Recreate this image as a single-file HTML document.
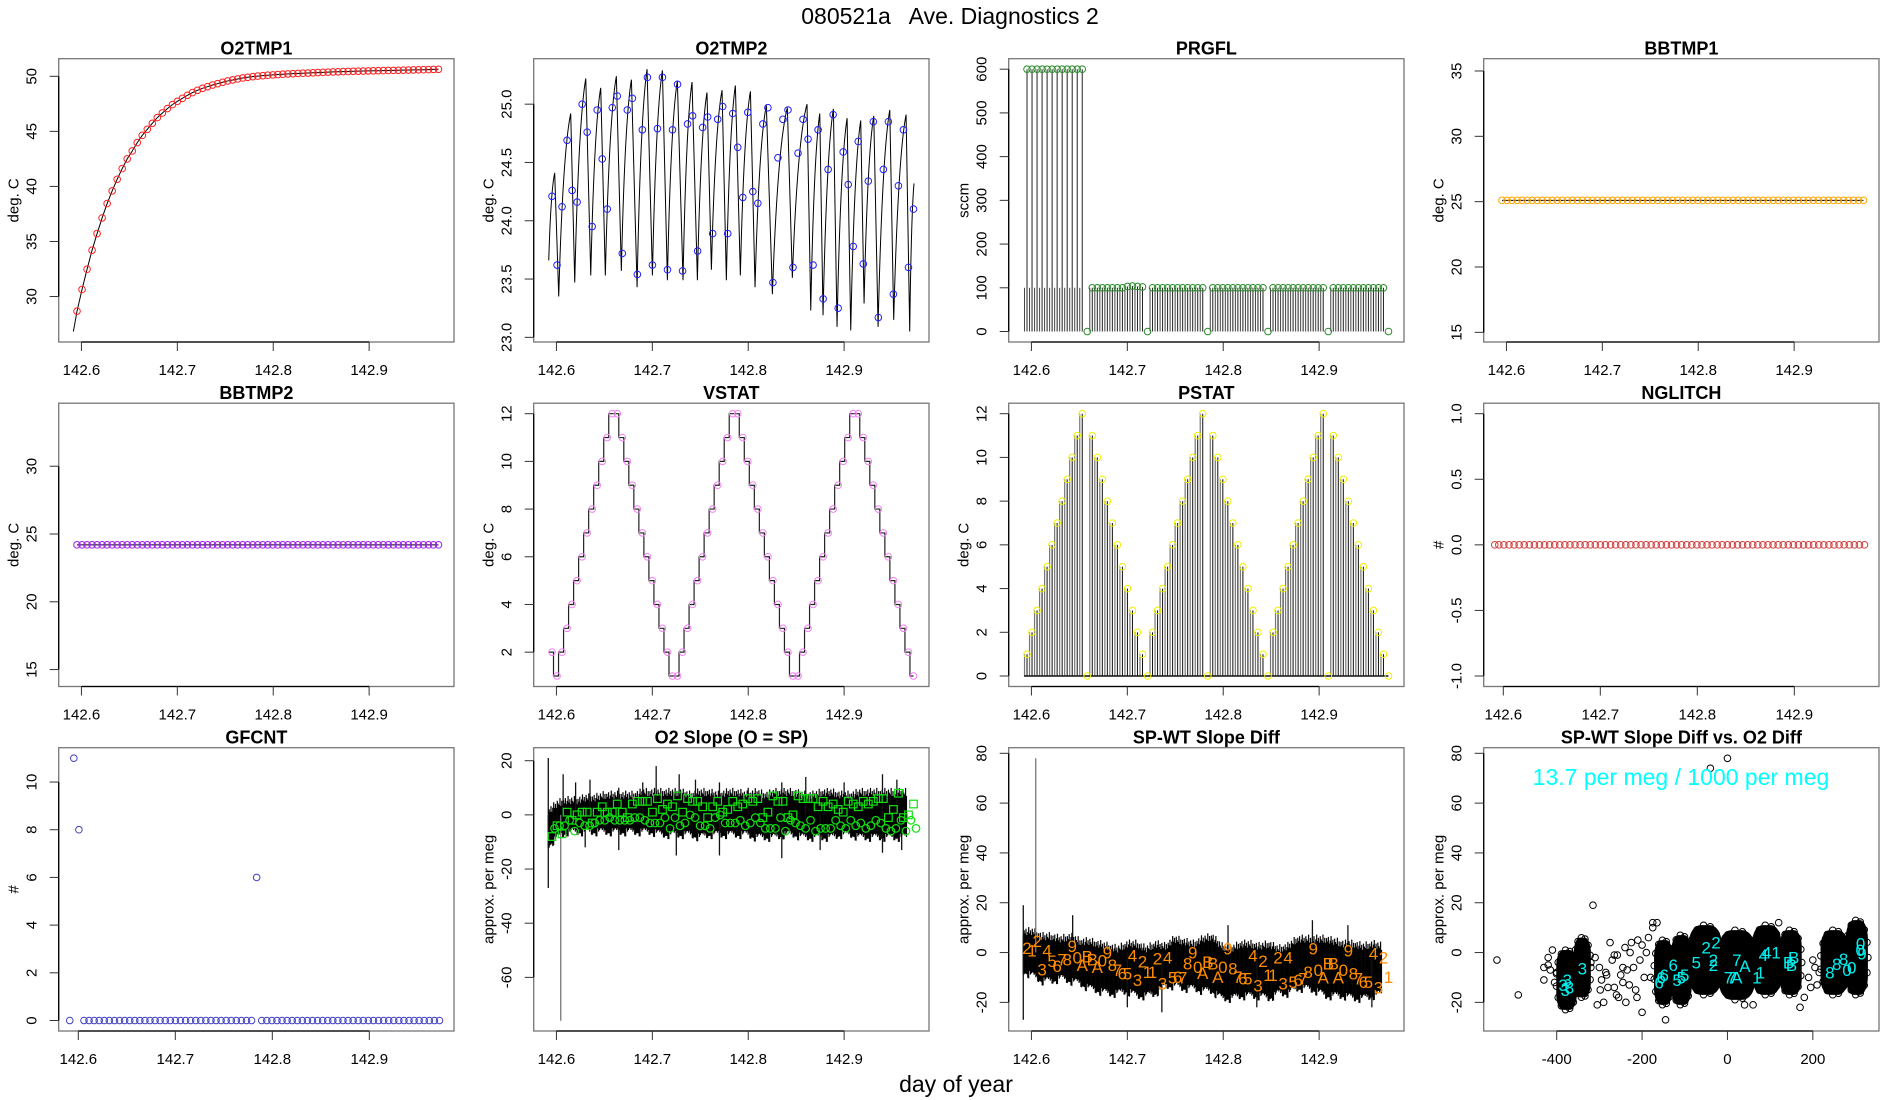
<!DOCTYPE html>
<html><head><meta charset="utf-8"><title>080521a Ave. Diagnostics 2</title>
<style>
html,body{margin:0;padding:0;background:#fff;}
svg{display:block;font-family:"Liberation Sans",Arial,sans-serif;}
</style></head>
<body>
<svg id="fig" width="1900" height="1100" viewBox="0 0 1900 1100" xmlns="http://www.w3.org/2000/svg">
<rect x="0" y="0" width="1900" height="1100" fill="#fff"/>
<text x="950" y="24" font-size="23" text-anchor="middle" style="white-space:pre">080521a   Ave. Diagnostics 2</text>
<text x="956" y="1092" font-size="23" text-anchor="middle">day of year</text>
</svg>
<script>
// ---------- data ----------
const T0 = 142.5954;
const DT = 0.005235;
const NPTS = 73;
const o2tmp1 = [28.67,30.64,32.48,34.21,35.72,37.14,38.44,39.59,40.65,41.62,42.50,43.22,43.98,44.64,45.19,45.73,46.25,46.67,47.07,47.43,47.73,48.00,48.28,48.52,48.73,48.91,49.06,49.21,49.33,49.46,49.58,49.67,49.76,49.85,49.91,49.97,50.02,50.06,50.10,50.13,50.16,50.19,50.22,50.24,50.26,50.28,50.30,50.32,50.34,50.36,50.38,50.40,50.41,50.43,50.44,50.46,50.47,50.48,50.49,50.50,50.51,50.52,50.53,50.54,50.55,50.56,50.57,50.58,50.59,50.60,50.61,50.63,50.64];
const o2tmp1LineStartDay = 142.5916;
const o2tmp1LineStartVal = 26.82;
const o2tmp2 = [24.21,23.62,24.12,24.69,24.26,24.16,25.0,24.76,23.95,24.95,24.53,24.10,24.97,25.07,23.72,24.95,25.05,23.54,24.78,25.23,23.62,24.79,25.23,23.58,24.78,25.17,23.57,24.83,24.90,23.74,24.80,24.89,23.89,24.87,24.98,23.89,24.92,24.63,24.20,24.93,24.25,24.15,24.83,24.97,23.47,24.54,24.87,24.95,23.60,24.58,24.87,24.70,23.62,24.78,23.33,24.44,24.91,23.25,24.59,24.31,23.78,24.68,23.63,24.34,24.85,23.17,24.44,24.85,23.37,24.30,24.78,23.60,24.10];
const o2tmp2LineDays = [142.5920,142.5982,142.6024,142.6149,142.6191,142.6306,142.6358,142.6462,142.6510,142.6625,142.6677,142.6782,142.6841,142.6945,142.7001,142.7105,142.7157,142.7261,142.7320,142.7414,142.7470,142.7570,142.7616,142.7727,142.7772,142.7866,142.7918,142.8023,142.8071,142.8189,142.8252,142.8408,142.8460,142.8613,142.8652,142.8746,142.8780,142.8888,142.8926,142.9031,142.9069,142.9173,142.9208,142.9309,142.9354,142.9476,142.9517,142.9646,142.9684,142.9729];
const o2tmp2LineVals = [23.66,24.41,23.35,24.92,23.47,25.22,23.53,25.14,23.53,25.24,23.57,25.21,23.43,25.30,23.53,25.29,23.49,25.20,23.49,25.19,23.49,25.10,23.58,25.12,23.49,25.16,23.53,25.11,23.43,24.99,23.37,24.97,23.51,25.00,23.23,24.92,23.19,24.96,23.09,24.88,23.06,24.86,23.29,24.90,23.09,24.95,23.15,24.91,23.05,24.32];
const prgfl = [600,600,600,600,600,600,600,600,600,600,600,600,0,100,100,100,100,100,100,100,103,104,103,102,0,100,100,100,100,100,100,100,100,100,100,100,0,100,100,100,100,100,100,100,100,100,100,100,0,100,100,100,100,100,100,100,100,100,100,100,0,100,100,100,100,100,100,100,100,100,100,100,0];
const bbtmp1 = 25.1;
const bbtmp2 = 24.2;
const vstat = [2,1,2,3,4,5,6,7,8,9,10,11,12,12,11,10,9,8,7,6,5,4,3,2,1,1,2,3,4,5,6,7,8,9,10,11,12,12,11,10,9,8,7,6,5,4,3,2,1,1,2,3,4,5,6,7,8,9,10,11,12,12,11,10,9,8,7,6,5,4,3,2,1];
const pstat = [1,2,3,4,5,6,7,8,9,10,11,12,0,11,10,9,8,7,6,5,4,3,2,1,0,2,3,4,5,6,7,8,9,10,11,12,0,11,10,9,8,7,6,5,4,3,2,1,0,2,3,4,5,6,7,8,9,10,11,12,0,11,10,9,8,7,6,5,4,3,2,1,0];
const nglitch = 0;
const gfFirstDay = 142.5912;
const gfFirstVal = 0;
const gfcnt = [11,8,0,0,0,0,0,0,0,0,0,0,0,0,0,0,0,0,0,0,0,0,0,0,0,0,0,0,0,0,0,0,0,0,0,0,6,0,0,0,0,0,0,0,0,0,0,0,0,0,0,0,0,0,0,0,0,0,0,0,0,0,0,0,0,0,0,0,0,0,0,0,0];
const BIN0 = 142.5915;
const BINW = 0.00985;
const slopeHi = [0,3,4,4,5,5,6,6,6,6,7,7,7,7,7,6,7,7,6,7,7,6,7,6,7,7,7,6,6,7,7,6,6,7,7,7,7,7,7];
const slopeLo = [-10,-7,-5,-5,-5,-5,-5,-5,-5,-5,-5,-5,-6,-6,-6,-6,-7,-6,-6,-6,-6,-6,-7,-7,-7,-6,-6,-7,-7,-7,-7,-6,-6,-7,-7,-7,-7,-7,-7];
const slopeSpikeDays = [142.5915,142.5915,142.6045,142.607,142.62,142.635,142.665,142.69,142.704,142.728,142.745,142.77,142.80,142.835,142.86,142.90,142.94,142.955,142.63,142.665,142.725,142.77,142.835,142.875,142.94,142.96];
const slopeSpikeVals = [21,-27,-76,15,12,13,10,12,18,15,13,12,10,12,14,12,15,13,-12,-13,-15,-15,-16,-13,-14,-13];
const slopeSP = [-8,-4,-7,1,-2,0,1,1,-3,1,3,1,1,4,1,-1,4,5,5,5,1,6,2,4,3,7,1,6,5,5,3,-1,3,5,1,2,5,3,4,6,5,6,-1,1,7,5,5,-1,0,7,6,6,6,3,5,3,4,2,1,5,4,3,5,4,5,6,6,-1,2,8,-1,0,4];
const slopeWT = [-5,-4,-4,-2,-6,-3,-4,-4,-3,-2,-2,-1,-2,-2,-2,-2,-1,-1,-2,-3,-3,-3,-1,-5,-1,-4,-3,0,-1,-4,-4,-5,-1,0,-3,-3,-3,-2,-4,-3,-1,-3,-5,-5,-5,-1,-6,-2,-3,-4,-5,-2,-6,-5,-5,-5,-2,-4,-5,-2,-4,-3,-5,-4,-2,-3,-5,-6,-5,-2,-6,-2,-5];
const diffHi = [7,7,5,5,4,5,3,3,2,1,0,2,2,0,2,1,4,3,2,4,5,1,0,2,2,1,2,0,1,4,4,4,4,3,2,2,1,2,1];
const diffLo = [-6,-8,-10,-10,-9,-10,-11,-13,-14,-15,-15,-14,-16,-16,-15,-12,-12,-13,-13,-14,-14,-17,-17,-16,-16,-16,-17,-15,-15,-13,-13,-14,-16,-16,-16,-17,-17,-16,-15];
const diffSpikeDays = [142.5915,142.5915,142.6045,142.643,142.70,142.736,142.805,142.835,142.893,142.93,142.955];
const diffSpikeVals = [19,-27,78,15,-22,-24,11,-22,13,11,-22];
const diffLabels = ['2','1','2','3','4','5','6','7','8','9','0','A','B','B','A','0','9','8','7','6','5','4','3','2','1','1','2','3','4','5','6','7','8','9','0','A','B','B','A','0','9','8','7','6','5','4','3','2','1','1','2','3','4','5','6','7','8','9','0','A','B','B','A','0','9','8','7','6','5','4','3','2','1'];
const diffVals = [1.9,0.9,4.6,-6.8,0.9,-3.4,-5.4,-2.8,-2.8,2.6,-2,-5.1,-1.5,-2.8,-5.8,-3.1,0,-5.1,-7.1,-8.5,-8.5,-1.1,-11.1,-3.5,-7.8,-7.8,-2.4,-12.5,-2,-10,-9.8,-10,-4.4,0,-5.8,-8.2,-3.8,-4.4,-9.8,-5.8,1.6,-6.4,-9.8,-10.5,-10.5,-1.1,-13.2,-3.4,-9.1,-9.1,-2,-12.5,-2,-11.8,-11.1,-10.5,-7.8,1.6,-7.1,-10,-4.4,-4.4,-10,-7.1,0.9,-8.5,-10.5,-11.8,-11.8,-0.4,-14.1,-2,-9.8];
const clusterX = [-377,-340,-150,-108,-52,22,92,148,250,303];
const clusterY = [-11,-6,-8,-7,-3,-5,-3,-4,-4,-2];
const clusterW = [24,20,22,24,38,42,34,26,32,26];
const clusterH = [12,12,13,14,14,14,14,13,13,15];
const outX = [-540,-490,-315,0,-40,-430,-420,-410,-400,-300,-290,-280,-270,-260,-250,-240,-230,-220,-210,-200,-195,-190,-185,-310,-295,-275,-255,-235,-215,-205,-180,-175,-320,-305,-285,-265,-245,-225,-175,180,190,200,210,-430,-200,-165,-145,120,170,40,60,-265,-245,-228,-212,-298,-283,-258,-238,195,205,215,-420,-415,-405];
const outY = [-3,-17,19,78,74,-11,-5,1,-8,-6,-20,-14,-3,-17,-9,2,-13,-6,5,-24,-10,0,6,-2,-11,4,-18,-7,-15,-3,-10,10,-4,-21,-8,-1,-12,4,12,-18,-10,-3,-13,-6,3,12,-27,12,-22,-21,-21,-14,-6,0,-18,-15,-9,-1,-20,-14,-6,-8,-2,-7,-12];
const labX = [-385,-375,-370,-380,-340,-127,-155,-148,-160,-73,-118,-108,-100,-50,-27,-33,-33,22,2,10,41,22,69,77,114,84,92,155,143,150,240,256,272,280,291,311,312,315];
const labY = [-13,-11,-14,-15,-6.5,-5,-10,-9,-12,-4,-11,-10,-9,2,4,-3,-5,-3,-10,-10,-5.5,-10,-10,-8,0,-1,0,-2,-4,-5,-8,-4.5,-2.5,-7,-6,1,3.6,-0.4];
const labT = ['3','3','3','3','3','6','6','6','6','5','5','5','5','2','2','2','2','7','7','7','A','A','1','1','1','4','4','B','B','B','8','8','8','0','0','0','0','9'];
const timeTicks = [142.6,142.7,142.8,142.9];
const days = Array.from({length:NPTS},(_,i)=>T0+i*DT);
// visual texture for noisy band edges (style only)
const JITTER = [0,3,1,4,0,2,5,1,3,0,4,2,1,5,0,3];

// ---------- helpers ----------
const NS='http://www.w3.org/2000/svg';
const svg=document.getElementById('fig');
function mk(parent,tag,attrs,txt){const e=document.createElementNS(NS,tag);for(const k in attrs)e.setAttribute(k,attrs[k]);if(txt!==undefined)e.textContent=txt;parent.appendChild(e);return e;}
const PW=475, PH=344.5, BL=58.7, BR=454, BT=58.7, BB=342;
function panel(row,col,name,title,xdom,ydom,xticks,yticks,ylab,xfmt,yfmt){
  const ox=col*PW, oy=row*PH;
  const g=mk(svg,'g',{});
  
  
  const x0=ox+BL,x1=ox+BR,y0=oy+BT,y1=oy+BB;
  const sx=v=>x0+(v-xdom[0])/(xdom[1]-xdom[0])*(x1-x0);
  const sy=v=>y1-(v-ydom[0])/(ydom[1]-ydom[0])*(y1-y0);
  const clipId='clip-'+name;
  const cp=mk(g,'clipPath',{id:clipId});
  mk(cp,'rect',{x:x0,y:y0,width:x1-x0,height:y1-y0});
  const t=mk(g,'text',{x:(x0+x1)/2,y:y0-4,'font-size':18,'font-weight':'bold','text-anchor':'middle'},title);
  
  
  const box=mk(g,'rect',{x:x0,y:y0,width:x1-x0,height:y1-y0,fill:'none',stroke:'#777','stroke-width':1.3});
  
  
  const xa=mk(g,'g',{});
  
  
  mk(xa,'line',{x1:sx(xticks[0]),x2:sx(xticks[xticks.length-1]),y1:y1,y2:y1,stroke:'#000','stroke-width':1.3});
  xticks.forEach(v=>{
    mk(xa,'line',{x1:sx(v),x2:sx(v),y1:y1,y2:y1+9,stroke:'#333'});
    const tl=mk(xa,'text',{x:sx(v),y:y1+33,'font-size':15,'text-anchor':'middle'},xfmt(v));
    
    
  });
  const ya=mk(g,'g',{});
  
  
  mk(ya,'line',{x1:x0,x2:x0,y1:sy(yticks[0]),y2:sy(yticks[yticks.length-1]),stroke:'#000','stroke-width':1.3});
  yticks.forEach(v=>{
    mk(ya,'line',{x1:x0,x2:x0-9,y1:sy(v),y2:sy(v),stroke:'#333'});
    const tl=mk(ya,'text',{x:x0-22,y:sy(v),'font-size':15,'text-anchor':'middle',transform:`rotate(-90 ${x0-22} ${sy(v)})`},yfmt(v));
    
    
  });
  const yl=mk(g,'text',{x:x0-40,y:(y0+y1)/2,'font-size':15,'text-anchor':'middle',transform:`rotate(-90 ${x0-40} ${(y0+y1)/2})`},ylab);
  
  
  const plot=mk(g,'g',{'clip-path':`url(#${clipId})`});
  
  
  return {g:plot,sx,sy};
}
const f1=v=>v.toFixed(1), f0=v=>String(v);
const TDOM=[142.5763,142.9885];
function circ(p,x,y,color,name){
  const c=mk(p,'circle',{cx:x,cy:y,r:3.3,fill:'none',stroke:color,'stroke-width':1});
  
  
  return c;
}

// 1 O2TMP1
{const P=panel(0,0,'o2tmp1','O2TMP1',TDOM,[25.87,51.6],timeTicks,[30,35,40,45,50],'deg. C',f1,f0);
 let d='M'+P.sx(o2tmp1LineStartDay)+','+P.sy(o2tmp1LineStartVal);
 o2tmp1.forEach((v,i)=>{d+=' L'+P.sx(days[i])+','+P.sy(v);});
 const ln=mk(P.g,'path',{d:d,fill:'none',stroke:'#000','stroke-width':1});
 
 
 o2tmp1.forEach((v,i)=>circ(P.g,P.sx(days[i]),P.sy(v),'#ff2020','o2tmp1-point'));}

// 2 O2TMP2
{const P=panel(0,1,'o2tmp2','O2TMP2',TDOM,[22.96,25.39],timeTicks,[23.0,23.5,24.0,24.5,25.0],'deg. C',f1,f1);
 let d='';
 o2tmp2LineDays.forEach((t,i)=>{
   const x=P.sx(t), y=P.sy(o2tmp2LineVals[i]);
   if(i===0){d+='M'+x+','+y;return;}
   const px=P.sx(o2tmp2LineDays[i-1]), py=P.sy(o2tmp2LineVals[i-1]);
   if(y<py){ d+=' Q'+(px+(x-px)*0.35)+','+(y+(py-y)*0.2)+' '+x+','+y; }
   else d+=' L'+x+','+y;
 });
 const ln=mk(P.g,'path',{d:d,fill:'none',stroke:'#000','stroke-width':1});
 
 
 o2tmp2.forEach((v,i)=>circ(P.g,P.sx(days[i]),P.sy(v),'#2020ff','o2tmp2-point'));}

// 3 PRGFL
{const P=panel(0,2,'prgfl','PRGFL',TDOM,[-24,624],timeTicks,[0,100,200,300,400,500,600],'sccm',f1,f0);
 prgfl.forEach((v,i)=>{
  const x=P.sx(days[i]);
  const l=mk(P.g,'line',{x1:x-2.5,x2:x-2.5,y1:P.sy(0),y2:P.sy(Math.min(v,100)),stroke:'#444','stroke-width':1});
  
  
  const l2=mk(P.g,'line',{x1:x,x2:x,y1:P.sy(0),y2:P.sy(v),stroke:'#222','stroke-width':1});
  
  
 });
 prgfl.forEach((v,i)=>circ(P.g,P.sx(days[i]),P.sy(v),'#2a8a2a','prgfl-point'));}

// 4 BBTMP1
{const P=panel(0,3,'bbtmp1','BBTMP1',TDOM,[14.26,35.94],timeTicks,[15,20,25,30,35],'deg. C',f1,f0);
 const ln=mk(P.g,'line',{x1:P.sx(days[0]),x2:P.sx(days[NPTS-1]),y1:P.sy(bbtmp1),y2:P.sy(bbtmp1),stroke:'#000'});
 
 
 days.forEach(t=>circ(P.g,P.sx(t),P.sy(bbtmp1),'#ffa500','bbtmp1-point'));}

// 5 BBTMP2
{const P=panel(1,0,'bbtmp2','BBTMP2',TDOM,[13.75,34.65],timeTicks,[15,20,25,30],'deg. C',f1,f0);
 const ln=mk(P.g,'line',{x1:P.sx(days[0]),x2:P.sx(days[NPTS-1]),y1:P.sy(bbtmp2),y2:P.sy(bbtmp2),stroke:'#000'});
 
 
 days.forEach(t=>circ(P.g,P.sx(t),P.sy(bbtmp2),'#a020f0','bbtmp2-point'));}

// 6 VSTAT
{const P=panel(1,1,'vstat','VSTAT',TDOM,[0.56,12.44],timeTicks,[2,4,6,8,10,12],'deg. C',f1,f0);
 let d='M'+(P.sx(days[0])-3.5)+','+P.sy(vstat[0]);
 vstat.forEach((v,i)=>{ if(i>0){const xs=P.sx(days[i-1])+1.5; d+=' L'+xs+','+P.sy(vstat[i-1])+' L'+xs+','+P.sy(v);} });
 d+=' L'+P.sx(days[NPTS-1])+','+P.sy(vstat[NPTS-1]);
 const ln=mk(P.g,'path',{d:d,fill:'none',stroke:'#222','stroke-width':1.2});
 
 
 vstat.forEach((v,i)=>circ(P.g,P.sx(days[i]),P.sy(v),'#f080f0','vstat-point'));}

// 7 PSTAT
{const P=panel(1,2,'pstat','PSTAT',TDOM,[-0.48,12.48],timeTicks,[0,2,4,6,8,10,12],'deg. C',f1,f0);
 pstat.forEach((v,i)=>{
  const x=P.sx(days[i]);
  const l=mk(P.g,'line',{x1:x-2.5,x2:x-2.5,y1:P.sy(0),y2:P.sy(v),stroke:'#777','stroke-width':1.2});
  
  
  const l2=mk(P.g,'line',{x1:x,x2:x,y1:P.sy(0),y2:P.sy(v),stroke:'#111','stroke-width':1});
  
  
 });
 const base=mk(P.g,'line',{x1:P.sx(days[0])-3,x2:P.sx(days[NPTS-1]),y1:P.sy(0),y2:P.sy(0),stroke:'#111','stroke-width':1.5});
 
 
 pstat.forEach((v,i)=>circ(P.g,P.sx(days[i]),P.sy(v),'#f0f000','pstat-point'));}

// 8 NGLITCH
const TDOM2=[142.5798,142.9873];
{const P=panel(1,3,'nglitch','NGLITCH',TDOM2,[-1.08,1.08],timeTicks,[-1.0,-0.5,0.0,0.5,1.0],'#',f1,f1);
 circ(P.g,P.sx(gfFirstDay),P.sy(nglitch),'#d04040','nglitch-point');
 days.forEach(t=>circ(P.g,P.sx(t),P.sy(nglitch),'#d04040','nglitch-point'));}

// 9 GFCNT
{const P=panel(2,0,'gfcnt','GFCNT',TDOM2,[-0.44,11.44],timeTicks,[0,2,4,6,8,10],'#',f1,f0);
 circ(P.g,P.sx(gfFirstDay),P.sy(gfFirstVal),'#4040c0','gfcnt-point');
 gfcnt.forEach((v,i)=>circ(P.g,P.sx(days[i]),P.sy(v),'#4040c0','gfcnt-point'));}

function band(P,hi,lo,name){
  const grp=mk(P.g,'g',{});
  
  
  const n=hi.length;
  const xa=P.sx(BIN0), xb=P.sx(BIN0+(n-1)*BINW);
  let k=0;
  for(let x=xa;x<=xb;x+=0.9,k++){
    const f=(x-xa)/(xb-xa)*(n-1); const i=Math.min(n-2,Math.floor(f)); const u=f-i;
    const h=hi[i]+(hi[i+1]-hi[i])*u, l=lo[i]+(lo[i+1]-lo[i])*u;
    const j1=JITTER[k%JITTER.length], j2=JITTER[(k*7+3)%JITTER.length];
    mk(grp,'line',{x1:x,x2:x,y1:P.sy(h)-j1*1.6,y2:P.sy(l)+j2*1.6,stroke:'#000','stroke-width':1.2});
  }
}
function spikes(P,ds,vs,name){
  ds.forEach((t,i)=>{
    const s=mk(P.g,'line',{x1:P.sx(t),x2:P.sx(t),y1:P.sy(0),y2:P.sy(vs[i]),stroke:(Math.abs(vs[i])>40?'#777':'#111'),'stroke-width':1.3});
    
    
  });
}
// 10 O2 Slope
{const P=panel(2,1,'o2-slope','O2 Slope (O = SP)',TDOM,[-79.8,24.8],timeTicks,[-60,-40,-20,0,20],'approx. per meg',f1,f0);
 band(P,slopeHi,slopeLo,'o2-slope-band');
 spikes(P,slopeSpikeDays,slopeSpikeVals,'o2-slope-spike');
 slopeSP.forEach((v,i)=>{ if(i<NPTS){
  const r=mk(P.g,'rect',{x:P.sx(days[i])-3.8,y:P.sy(v)-3.8,width:7.6,height:7.6,fill:'none',stroke:'#10e010','stroke-width':1.2});
  
  }});
 slopeWT.forEach((v,i)=>{ if(i<NPTS){
  const c=mk(P.g,'circle',{cx:P.sx(days[i])+2.5,cy:P.sy(v),r:3.8,fill:'none',stroke:'#10e010','stroke-width':1.2});
  
  }});}

// 11 SP-WT Slope Diff
{const P=panel(2,2,'slope-diff','SP-WT Slope Diff',TDOM,[-31.5,82.25],timeTicks,[-20,0,20,40,60,80],'approx. per meg',f1,f0);
 band(P,diffHi,diffLo,'slope-diff-band');
 spikes(P,diffSpikeDays,diffSpikeVals,'slope-diff-spike');
 diffVals.forEach((v,i)=>{ if(i<NPTS){
  const t=mk(P.g,'text',{x:P.sx(days[i]),y:P.sy(v)+6,'font-size':17,'text-anchor':'middle',fill:'#ff8c00'},diffLabels[i]);
  
  }});}

// 12 scatter
{const P=panel(2,3,'diff-scatter','SP-WT Slope Diff vs. O2 Diff',[-571,355],[-31.5,82.25],[-400,-200,0,200],[-20,0,20,40,60,80],'approx. per meg',f0,f0);
 clusterX.forEach((cx,k)=>{
  const rx=Math.abs(P.sx(cx+clusterW[k])-P.sx(cx)), ry=Math.abs(P.sy(clusterY[k]+clusterH[k])-P.sy(clusterY[k]));
  const e=mk(P.g,'rect',{x:P.sx(cx)-rx,y:P.sy(clusterY[k])-ry,width:2*rx,height:2*ry,rx:rx*0.7,ry:ry*0.5,fill:'#000'});
  
  
  for(let a=0;a<360;a+=24){
    const rad=a*Math.PI/180;
    const px=cx+clusterW[k]*Math.cos(rad), py=clusterY[k]+clusterH[k]*Math.sin(rad);
    circ(P.g,P.sx(px),P.sy(py),'#000','scatter-point');
  }
 });
 outX.forEach((x,i)=>circ(P.g,P.sx(x),P.sy(outY[i]),'#000','scatter-outlier'));
 labX.forEach((x,i)=>{
  const t=mk(P.g,'text',{x:P.sx(x),y:P.sy(labY[i])+6,'font-size':17,'text-anchor':'middle',fill:'#00f0f0'},labT[i]);
  
  
 });
 const ann=mk(P.g,'text',{x:1681,y:785,'font-size':23,'text-anchor':'middle',fill:'#00ffff'},'13.7 per meg / 1000 per meg');
 
 }
</script>
</body></html>
